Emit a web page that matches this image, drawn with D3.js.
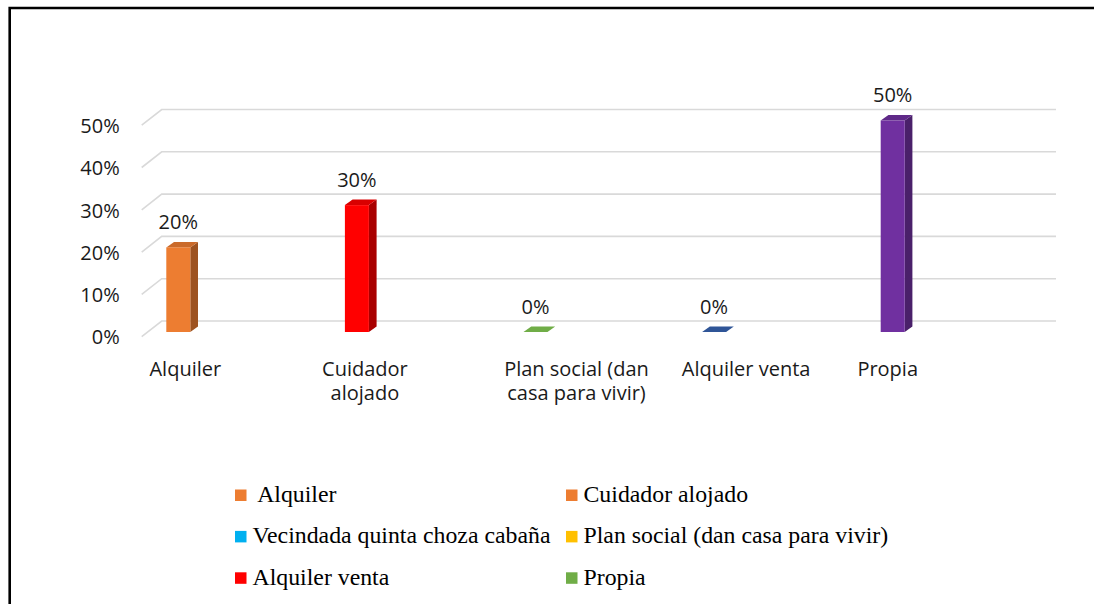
<!DOCTYPE html>
<html>
<head>
<meta charset="utf-8">
<script src="https://cdn.jsdelivr.net/npm/d3@7"></script>
<style>
  body { margin: 0; background: #fff; }
  svg { display: block; }
</style>
</head>
<body>
<svg id="chart" width="1094" height="604"></svg>
<script>
// data
const categories = ["Alquiler", "Cuidador alojado", "Plan social (dan casa para vivir)", "Alquiler venta", "Propia"]
const categoryLines = [["Alquiler"], ["Cuidador", "alojado"], ["Plan social (dan", "casa para vivir)"], ["Alquiler venta"], ["Propia"]]
const values = [0.20, 0.30, 0, 0, 0.50]
const barColors = ["#ED7D31", "#FF0000", "#70AD47", "#2F5597", "#7030A0"]
const yTicks = [0, 0.1, 0.2, 0.3, 0.4, 0.5]

const legendLabels = [" Alquiler", "Cuidador alojado", "Vecindada quinta choza cabaña", "Plan social (dan casa para vivir)", "Alquiler venta", "Propia"]
const legendColors = ["#ED7D31", "#ED7D31", "#00B0F0", "#FFC000", "#FF0000", "#70AD47"]

// layout
const svg = d3.select('#chart')
const labelNudge = [7, 8, 41, 32, -5]
const depth = { dx: 20, dy: -15.7 }   // front -> back wall offset
const barDepth = { dx: 7.7, dy: -5.5 }
const barW = 24

const xScale = d3.scaleBand().domain(categories).range([89, 982])
const yFront = d3.scaleLinear().domain([0, 0.5]).range([336.7, 125.2])
const yBar = d3.scaleLinear().domain([0, 0.5]).range([332, 120.5])

const barData = categories.map((c, i) => ({ cat: c, value: values[i], color: barColors[i] }))

// frame (top + left only, rest runs off the image)
svg.append('path')
    .attr('d', 'M9.7,604 V8 H1094')
    .attr('fill', 'none')
    .attr('stroke', '#000')
    .attr('stroke-width', 2.6)

// gridlines with the 3d wall
svg.append('g').selectAll('path')
    .data(yTicks)
    .enter()
    .append('path')
    .attr('d', v => {
        const y = yFront(v)
        return `M141.7,${y} L${141.7 + depth.dx},${y + depth.dy} H1056`
    })
    .attr('fill', 'none')
    .attr('stroke', '#D9D9D9')
    .attr('stroke-width', 1.6)

// y axis labels
const yAxis = d3.axisLeft(yFront).tickValues(yTicks).tickFormat(d3.format('.0%')).tickSize(0).tickPadding(22)
const yG = svg.append('g').attr('transform', 'translate(141.7,0)').call(yAxis)
yG.select('.domain').remove()
yG.selectAll('text')
    .attr('font-family', '"Open Sans", sans-serif')
    .attr('font-size', 20)
    .attr('fill', '#1a1a1a')
    .attr('dy', '0.36em')

// category labels
const xAxis = d3.axisBottom(xScale).tickSize(0).tickFormat('')
const xG = svg.append('g').attr('transform', 'translate(0,350)').call(xAxis)
xG.select('.domain').remove()
xG.selectAll('.tick text').remove()
xG.selectAll('.tick')
    .append('text')
    .attr('font-family', '"Open Sans", sans-serif')
    .attr('font-size', 20)
    .attr('fill', '#1a1a1a')
    .attr('text-anchor', 'middle')
    .each(function(d, i) {
        d3.select(this).selectAll('tspan')
            .data(categoryLines[i])
            .enter()
            .append('tspan')
            .attr('x', labelNudge[i])
            .attr('y', (t, j) => 26 + j * 24)
            .text(t => t)
    })

// bars
const bars = svg.append('g').selectAll('g')
    .data(barData)
    .enter()
    .append('g')

const left = d => xScale(d.cat) + xScale.bandwidth() / 2 - barW / 2

// side face
bars.filter(d => d.value > 0).append('path')
    .attr('d', d => {
        const x = left(d) + barW, y0 = yBar(0), y1 = yBar(d.value)
        return `M${x},${y0} V${y1} l${barDepth.dx},${barDepth.dy} V${y0 + barDepth.dy} Z`
    })
    .attr('fill', d => d3.color(d.color).darker(1.15))

// top face
bars.append('path')
    .attr('d', d => {
        const x = left(d), y1 = yBar(d.value)
        return `M${x},${y1} l${barDepth.dx},${barDepth.dy} h${barW} l${-barDepth.dx},${-barDepth.dy} Z`
    })
    .attr('fill', d => d.value > 0 ? d3.color(d.color).darker(0.45) : d.color)

// front face
bars.filter(d => d.value > 0).append('rect')
    .attr('x', d => left(d))
    .attr('y', d => yBar(d.value))
    .attr('width', barW)
    .attr('height', d => yBar(0) - yBar(d.value))
    .attr('fill', d => d.color)

// data labels
bars.append('text')
    .attr('x', d => left(d) + barW / 2)
    .attr('y', d => yBar(d.value) + barDepth.dy - 13)
    .attr('text-anchor', 'middle')
    .attr('font-family', '"Open Sans", sans-serif')
    .attr('font-size', 20)
    .attr('fill', '#1a1a1a')
    .text(d => d3.format('.0%')(d.value))

// legend, two columns
const legend = svg.append('g').selectAll('g')
    .data(legendLabels)
    .enter()
    .append('g')
    .attr('transform', (d, i) => `translate(${i % 2 === 0 ? 235 : 566},${502 + Math.floor(i / 2) * 41.4})`)

legend.append('rect')
    .attr('x', 0)
    .attr('y', -12.5)
    .attr('width', 11.5)
    .attr('height', 11.5)
    .attr('fill', (d, i) => legendColors[i])

legend.append('text')
    .attr('x', 17.5)
    .attr('y', 0)
    .attr('font-family', '"Liberation Serif", "Times New Roman", serif')
    .attr('font-size', 23.8)
    .attr('fill', '#000')
    .style('white-space', 'pre')
    .text(d => d)
</script>
</body>
</html>
